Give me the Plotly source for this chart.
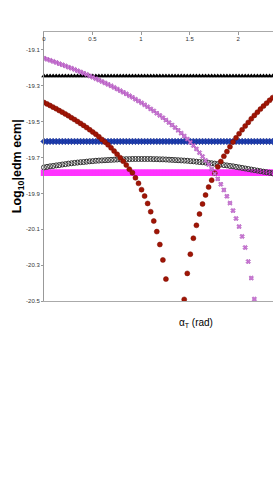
import plotly.graph_objects as go

# x values: alpha_T (rad)
alpha = [0, 0.0314, 0.0628, 0.0942, 0.1257, 0.1571, 0.1885, 0.2199, 0.2513, 0.2827,
         0.3142, 0.3456, 0.3770, 0.4084, 0.4398, 0.4712, 0.5027, 0.5341, 0.5655, 0.5969,
         0.6283, 0.6597, 0.6912, 0.7226, 0.7540, 0.7854, 0.8168, 0.8482, 0.8796, 0.9111,
         0.9425, 0.9739, 1.0053, 1.0367, 1.0681, 1.0996, 1.1310, 1.1624, 1.1938, 1.2252,
         1.2566, 1.2881, 1.3195, 1.3509, 1.3823, 1.4137, 1.4451, 1.4765, 1.5080, 1.5394,
         1.5708, 1.6022, 1.6336, 1.6650, 1.6965, 1.7279, 1.7593, 1.7907, 1.8221, 1.8535,
         1.8850, 1.9164, 1.9478, 1.9792, 2.0106, 2.0420, 2.0735, 2.1049, 2.1363, 2.1677,
         2.1991, 2.2305, 2.2619, 2.2934, 2.3248, 2.3562]

# constant levels
triangle_level = -19.245
diamond_level = -19.61
square_level = -19.785
triangles = [triangle_level] * len(alpha)
diamonds = [diamond_level] * len(alpha)
squares = [square_level] * len(alpha)

circles = [-19.755, -19.752, -19.749, -19.747, -19.744, -19.742, -19.739, -19.737, -19.734, -19.732,
           -19.730, -19.728, -19.726, -19.725, -19.723, -19.721, -19.720, -19.718, -19.717, -19.716,
           -19.715, -19.714, -19.713, -19.712, -19.711, -19.710, -19.710, -19.709, -19.709, -19.708,
           -19.708, -19.708, -19.708, -19.708, -19.708, -19.708, -19.709, -19.709, -19.710, -19.710,
           -19.711, -19.712, -19.713, -19.714, -19.715, -19.716, -19.717, -19.718, -19.720, -19.721,
           -19.723, -19.725, -19.726, -19.728, -19.730, -19.732, -19.734, -19.737, -19.739, -19.742,
           -19.744, -19.747, -19.749, -19.752, -19.755, -19.758, -19.761, -19.764, -19.767, -19.770,
           -19.773, -19.776, -19.779, -19.782, -19.785, -19.788]

red_dots = [-19.393, -19.401, -19.410, -19.419, -19.428, -19.438, -19.447, -19.457, -19.467, -19.478,
            -19.488, -19.499, -19.510, -19.521, -19.533, -19.545, -19.558, -19.570, -19.584, -19.599,
            -19.614, -19.629, -19.646, -19.664, -19.682, -19.701, -19.721, -19.742, -19.765, -19.785,
            -19.813, -19.844, -19.879, -19.915, -19.956, -20.002, -20.054, -20.113, -20.185, -20.271,
            -20.378, None, None, None, None, None, -20.491, -20.346, -20.239, -20.150,
            -20.078, -20.015, -19.959, -19.909, -19.865, -19.826, -19.787, -19.752, -19.722, -19.693,
            -19.667, -19.640, -19.614, -19.590, -19.567, -19.545, -19.524, -19.504, -19.484, -19.465,
            -19.447, -19.430, -19.413, -19.397, -19.381, -19.366]

violet_x = [-19.146, -19.152, -19.158, -19.164, -19.170, -19.177, -19.183, -19.189, -19.196, -19.202,
            -19.209, -19.216, -19.223, -19.230, -19.237, -19.245, -19.252, -19.260, -19.268, -19.276,
            -19.284, -19.292, -19.300, -19.309, -19.318, -19.327, -19.336, -19.345, -19.355, -19.364,
            -19.375, -19.385, -19.395, -19.406, -19.417, -19.429, -19.440, -19.453, -19.465, -19.478,
            -19.491, -19.505, -19.519, -19.533, -19.548, -19.564, -19.580, -19.597, -19.615, -19.633,
            -19.652, -19.673, -19.694, -19.716, -19.739, -19.764, -19.791, -19.819, -19.849, -19.881,
            -19.916, -19.954, -19.996, -20.040, -20.085, -20.140, -20.202, -20.280, -20.372, -20.489,
            None, None, None, None, None, None]

x_ticks = [0, 0.5, 1, 1.5, 2]
x_tick_text = ["0", "0.5", "1", "1.5", "2"]
y_ticks = [-19.1, -19.3, -19.5, -19.7, -19.9, -20.1, -20.3, -20.5]
y_tick_text = ["-19.1", "-19.3", "-19.5", "-19.7", "-19.9", "-20.1", "-20.3", "-20.5"]

fig = go.Figure()
fig.add_trace(go.Scatter(x=alpha, y=squares, mode="markers", cliponaxis=False,
                         marker=dict(symbol="square", size=6.5, color="#ff33ff", line=dict(width=0))))
fig.add_trace(go.Scatter(x=alpha, y=diamonds, mode="markers", cliponaxis=False,
                         marker=dict(symbol="diamond", size=5, color="#1f3fb0",
                                     line=dict(width=0.5, color="#0a1f80"))))
fig.add_trace(go.Scatter(x=alpha, y=triangles, mode="markers", cliponaxis=False,
                         marker=dict(symbol="triangle-up", size=5, color="#000000", line=dict(width=0))))
fig.add_trace(go.Scatter(x=alpha, y=circles, mode="markers", cliponaxis=False,
                         marker=dict(symbol="circle-open", size=5, color="#333333", line=dict(width=1))))
fig.add_trace(go.Scatter(x=alpha, y=red_dots, mode="markers",
                         marker=dict(symbol="circle", size=5, color="#a01505",
                                     line=dict(width=0.5, color="#7a0a00"))))
fig.add_trace(go.Scatter(x=alpha, y=violet_x, mode="markers",
                         marker=dict(symbol="x", size=4, color="#cc7ad6",
                                     line=dict(width=0.5, color="#9a3aa8"))))

fig.update_layout(
    width=273, height=491,
    margin=dict(l=44, r=0, t=32, b=190),
    paper_bgcolor="white", plot_bgcolor="white",
    showlegend=False,
    font=dict(family="Liberation Sans, Arial, sans-serif", color="#333333"),
    xaxis=dict(range=[0, 2.36], side="top", tickvals=x_ticks, ticktext=x_tick_text,
               ticklabelposition="inside", ticklabeloverflow="allow",
               ticks="inside", ticklen=3, tickcolor="#999999",
               tickfont=dict(size=6, color="#333333"),
               showline=True, linecolor="#aaaaaa", linewidth=1, mirror=True,
               showgrid=False, zeroline=False),
    yaxis=dict(range=[-20.5, -19.0], tickvals=y_ticks, ticktext=y_tick_text,
               ticks="outside", ticklen=2, tickcolor="#999999",
               tickfont=dict(size=6, color="#333333"),
               showline=True, linecolor="#999999", linewidth=1,
               showgrid=False, zeroline=False),
    annotations=[
        dict(text="<b>Log<sub>10</sub>|edm ecm|</b>", xref="paper", yref="paper",
             x=-0.115, y=0.5, xanchor="center", yanchor="middle", textangle=-90,
             showarrow=False, font=dict(size=12.5, color="#000000",
                                        family="Liberation Sans, Arial, sans-serif"),
             ),
        dict(text="\u03b1<sub>T</sub> (rad)", xref="paper", yref="paper",
             x=0.664, y=-0.082, xanchor="center", yanchor="middle",
             showarrow=False, font=dict(size=10, color="#000000")),
    ],
)

fig.write_html("out.html", config={"displayModeBar": False},
               post_script="document.body.style.margin='0';document.body.style.overflow='hidden';")
